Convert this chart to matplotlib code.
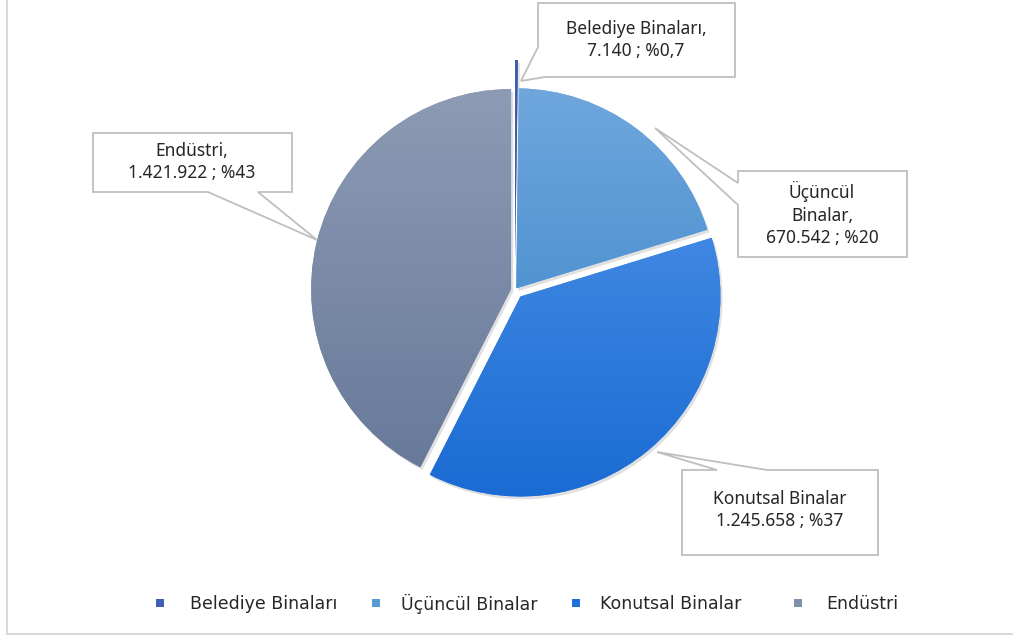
import numpy as np
import matplotlib
matplotlib.use("Agg")
import matplotlib.pyplot as plt
from matplotlib.colors import LinearSegmentedColormap
from matplotlib.patches import Polygon, Rectangle
import matplotlib.patheffects as pe

# data
categories = ["Belediye Binaları", "Üçüncül Binalar", "Konutsal Binalar", "Endüstri"]
values = [7140, 670542, 1245658, 1421922]
callout_texts = [
    "Belediye Binaları,\n7.140 ; %0,7",
    "Üçüncül\nBinalar,\n670.542 ; %20",
    "Konutsal Binalar\n1.245.658 ; %37",
    "Endüstri,\n1.421.922 ; %43",
]

# styles
top_colors = ["#3c5aa8", "#6fa7dd", "#3f87e2", "#8d9bb4"]
bot_colors = ["#3c5aa8", "#5193d2", "#1a6bd3", "#687a9a"]
legend_colors = ["#3f5fb5", "#5b9bd5", "#1d6fdc", "#7f8fab"]
explode = [30, 2, 8.5, 4]

W, H = 1013, 636


def Y(y):
    # picture rows (top down) -> axes y (bottom up)
    return H - y


fig = plt.figure(figsize=(W / 100, H / 100), dpi=100)
ax = fig.add_axes([0, 0, 1, 1])

wedges, _ = ax.pie(values, startangle=90, counterclock=False,
                   center=(515, Y(290)), radius=200, explode=explode,
                   colors=top_colors, wedgeprops=dict(linewidth=0))

# soft shadow + vertical gradient inside each slice
for w, c0, c1 in zip(wedges, top_colors, bot_colors):
    w.set_path_effects([pe.SimplePatchShadow(offset=(1.5, -2), shadow_rgbFace="#000000", alpha=0.12),
                        pe.Normal()])
    bb = w.get_path().get_extents(w.get_patch_transform())
    cmap = LinearSegmentedColormap.from_list("g", [c1, c0])
    grad = np.linspace(0, 1, 256).reshape(-1, 1)
    im = ax.imshow(grad, cmap=cmap, origin="lower", aspect="auto",
                   extent=[bb.x0, bb.x1, bb.y0, bb.y1], zorder=w.get_zorder() + 0.1)
    im.set_clip_path(w)

# callout boxes (speech-bubble style)
callouts = [
    ([(538, 3), (735, 3), (735, 77), (545, 77), (521, 81), (538, 47)], (636, 40)),
    ([(738, 171), (907, 171), (907, 257), (738, 257), (738, 205), (655, 128), (738, 183)], (822, 214)),
    ([(682, 470), (717, 470), (657, 452), (767, 470), (878, 470), (878, 555), (682, 555)], (780, 510)),
    ([(93, 133), (292, 133), (292, 192), (258, 192), (317, 240), (208, 192), (93, 192)], (192, 162)),
]
for (verts, (tx, ty)), txt in zip(callouts, callout_texts):
    ax.add_patch(Polygon([(x, Y(y)) for x, y in verts], closed=True,
                         facecolor="white", edgecolor="#bfbfbf", linewidth=1.3, zorder=5))
    ax.text(tx, Y(ty), txt, ha="center", va="center", fontsize=12.5,
            family=["Noto Sans", "DejaVu Sans"], color="#262626",
            linespacing=1.35, zorder=6)

# legend
marker_x = [160, 376, 576, 798]
text_x = [190, 401, 600, 826]
for mx, tx, col, name in zip(marker_x, text_x, legend_colors, categories):
    ax.add_patch(Rectangle((mx - 4, Y(603) - 4), 8, 8, facecolor=col, edgecolor="none"))
    ax.text(tx, Y(604), name, ha="left", va="center", fontsize=12.5,
            family=["Liberation Sans Narrow", "DejaVu Sans"], color="#262626")

# chart area border (left and bottom visible)
ax.plot([7, 7], [Y(0), Y(634)], color="#d9d9d9", linewidth=1.5)
ax.plot([7, W], [Y(634), Y(634)], color="#d9d9d9", linewidth=1.5)

ax.set_xlim(0, W)
ax.set_ylim(0, H)
ax.set_aspect("auto")
ax.axis("off")

fig.savefig("out.png", dpi=100, facecolor="white")
